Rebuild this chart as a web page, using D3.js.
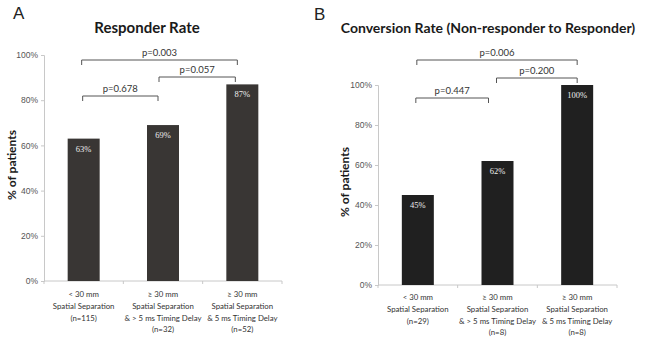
<!DOCTYPE html>
<html>
<head>
<meta charset="utf-8">
<script src="https://cdn.jsdelivr.net/npm/d3@7"></script>
<style>
  body { margin: 0; background: #fff; }
  text { font-family: Lato, "Open Sans", sans-serif; }
</style>
</head>
<body>
<svg id="chart" width="646" height="350"></svg>
<script>
// categories (lines of the x labels)
var catsA = [
  ["< 30 mm", "Spatial Separation", "(n=115)"],
  ["\u2265 30 mm", "Spatial Separation", "& > 5 ms Timing Delay", "(n=32)"],
  ["\u2265 30 mm", "Spatial Separation", "& 5 ms Timing Delay", "(n=52)"]
]
var catsB = [
  ["< 30 mm", "Spatial Separation", "(n=29)"],
  ["\u2265 30 mm", "Spatial Separation", "& > 5 ms Timing Delay", "(n=8)"],
  ["\u2265 30 mm", "Spatial Separation", "& 5 ms Timing Delay", "(n=8)"]
]
var valuesA = [63, 69, 87]
var valuesB = [45, 62, 100]
var ticks = [0, 20, 40, 60, 80, 100]
// comparisons: [from index, to index, p label]
var pA = [[0, 2, "p=0.003"], [1, 2, "p=0.057"], [0, 1, "p=0.678"]]
var pB = [[0, 2, "p=0.006"], [1, 2, "p=0.200"], [0, 1, "p=0.447"]]

var svg = d3.select("#chart")

function drawPanel(opt){
    var g = svg.append("g")

    var x = d3.scaleBand().domain(d3.range(opt.cats.length))
    .range([opt.x0, opt.x1])

    var y = d3.scaleLinear().domain([0, 100]).range([opt.y0, opt.y1])

    // letter + title
    g.append("text").attr("x", opt.letterX).attr("y", opt.letterY)
    .style("font-family", "Liberation Sans, Arial, sans-serif")
    .style("font-size", "17px").style("fill", "#222").text(opt.letter)

    g.append("text").attr("x", opt.titleX).attr("y", opt.titleY)
    .attr("text-anchor", "middle")
    .style("font-size", opt.titleSize).style("font-weight", "bold")
    .style("fill", "#1a1a1a").text(opt.title)

    // y axis
    var yAxis = d3.axisLeft(y).tickValues(ticks)
    .tickFormat(function(d){ return d + "%" }).tickSize(3)
    var ya = g.append("g").attr("transform", "translate(" + opt.x0 + ",0)").call(yAxis)
    ya.select(".domain").attr("stroke", "#c8c8c8")
    ya.selectAll(".tick line").attr("stroke", "#c8c8c8")
    ya.selectAll("text").style("font-size", "8.5px").style("fill", "#555")
    .style("font-family", "Liberation Sans, Arial, sans-serif")

    // x axis line with tick marks between categories
    var xa = g.append("g").attr("transform", "translate(0," + opt.y0 + ")")
    xa.append("line").attr("x1", opt.x0).attr("x2", opt.x1)
    .attr("stroke", "#c8c8c8")
    xa.selectAll(".xt").data(d3.range(opt.cats.length + 1)).enter()
    .append("line")
    .attr("x1", function(d){ return opt.x0 + d * x.step() })
    .attr("x2", function(d){ return opt.x0 + d * x.step() })
    .attr("y1", 0).attr("y2", 3).attr("stroke", "#c8c8c8")

    // y label
    g.append("text")
    .attr("transform", "translate(" + opt.ylabX + "," + opt.ylabY + ") rotate(-90)")
    .attr("text-anchor", "middle")
    .style("font-size", "12px").style("font-weight", "bold").style("fill", "#1a1a1a")
    .text("% of patients")

    var bw = 32
    g.selectAll(".bar").data(opt.values).enter()
    .append("rect")
    .attr("x", function(d, i){ return x(i) + x.bandwidth() / 2 - bw / 2 })
    .attr("y", function(d){ return y(d) })
    .attr("width", bw)
    .attr("height", function(d){ return opt.y0 - y(d) })
    .style("fill", opt.color)

    g.selectAll(".val").data(opt.values).enter()
    .append("text")
    .attr("x", function(d, i){ return x(i) + x.bandwidth() / 2 })
    .attr("y", function(d){ return y(d) + 13 })
    .attr("text-anchor", "middle")
    .style("font-family", "Liberation Serif, serif")
    .style("font-size", "8.5px").style("fill", "#ededed")
    .text(function(d){ return d + "%" })

    // category labels
    opt.cats.forEach(function(lines, i){
        var t = g.append("text")
        .attr("x", x(i) + x.bandwidth() / 2)
        .attr("y", opt.y0 + opt.labDy)
        .attr("text-anchor", "middle")
        .style("font-size", "7.8px").style("fill", "#333")
        lines.forEach(function(l, j){
            t.append("tspan").attr("x", x(i) + x.bandwidth() / 2)
            .attr("dy", j == 0 ? 0 : 11.8).text(l)
        })
    })

    // p-value brackets
    opt.p.forEach(function(p, k){
        var by = opt.brY[k]
        var xa1 = x(p[0]) + x.bandwidth() / 2 + opt.brIn[k][0]
        var xb1 = x(p[1]) + x.bandwidth() / 2 + opt.brIn[k][1]
        g.append("path")
        .attr("d", "M" + xa1 + "," + (by + 5) + "V" + by + "H" + xb1 + "V" + (by + 5))
        .attr("fill", "none").attr("stroke", "#555").attr("stroke-width", 1)
        g.append("text").attr("x", (xa1 + xb1) / 2).attr("y", by - 4)
        .attr("text-anchor", "middle")
        .style("font-size", "9.5px").style("fill", "#333")
        .text(p[2])
    })
}

drawPanel({
    cats: catsA, values: valuesA, p: pA,
    x0: 44, x1: 282, y0: 281, y1: 55,
    color: "#393634",
    letter: "A", letterX: 13, letterY: 19,
    title: "Responder Rate", titleX: 147, titleY: 33, titleSize: "15px",
    ylabX: 16, ylabY: 165, labDy: 16,
    brY: [60, 77, 96], brIn: [[-2, -5], [-4, -7], [-1, -5]]
})

drawPanel({
    cats: catsB, values: valuesB, p: pB,
    x0: 378, x1: 617, y0: 285, y1: 85,
    color: "#202020",
    letter: "B", letterX: 314, letterY: 20,
    title: "Conversion Rate (Non-responder to Responder)", titleX: 488, titleY: 33, titleSize: "14px",
    ylabX: 349, ylabY: 182, labDy: 15,
    brY: [60, 78, 98], brIn: [[-1, 0], [-1, 0], [-2, -9]]
})
</script>
</body>
</html>
